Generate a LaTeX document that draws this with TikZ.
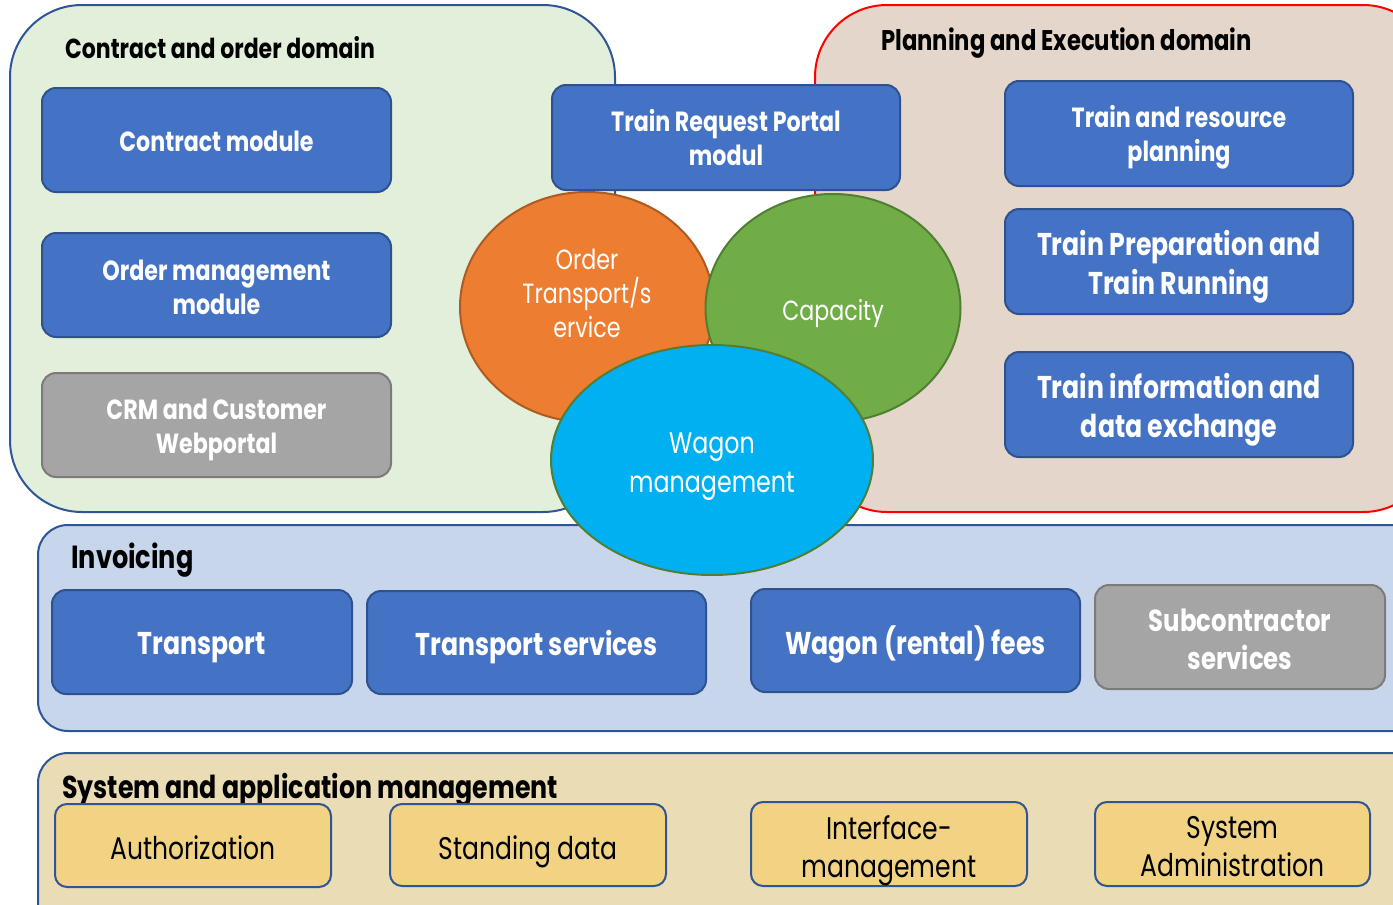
\documentclass[tikz,border=0pt]{standalone}
\usepackage{fontspec}
\setmainfont{Poppins}[FakeStretch=0.8]
\usetikzlibrary{shapes.geometric}
\definecolor{dgreen}{HTML}{E2EFDA}
\definecolor{dbrown}{HTML}{E4D6CA}
\definecolor{dblue}{HTML}{2F5597}
\definecolor{boxblue}{HTML}{4472C4}
\definecolor{boxbord}{HTML}{2F528F}
\definecolor{boxgray}{HTML}{A5A5A5}
\definecolor{graybord}{HTML}{7B7B7B}
\definecolor{invfill}{HTML}{C8D6EC}
\definecolor{sysfill}{HTML}{EADCB5}
\definecolor{yelbox}{HTML}{F1D383}
\definecolor{orfill}{HTML}{ED7D31}
\definecolor{orbord}{HTML}{AE5A21}
\definecolor{grfill}{HTML}{70AD47}
\definecolor{grbord}{HTML}{507E32}
\definecolor{cyfill}{HTML}{00B0F0}
\begin{document}
\begin{tikzpicture}[x=1pt,y=-1pt,
  modbox/.style={draw=boxbord, fill=boxblue, line width=2pt, rounded corners=14pt, inner sep=0pt},
  graymod/.style={modbox, draw=graybord, fill=boxgray},
  sysbox/.style={draw=dblue, fill=yelbox, line width=2pt, rounded corners=12pt, inner sep=0pt},
  modtext/.style={inner sep=0pt, align=center, text=white, font=\bfseries\fontsize{27.7}{34}\selectfont},
  bigtext/.style={modtext, font=\bfseries\fontsize{31.5}{39}\selectfont},
  systext/.style={inner sep=0pt, align=center, text=black, font=\fontsize{31.3}{38}\selectfont},
  domtitle/.style={anchor=west, inner sep=0pt, text=black, font=\bfseries\fontsize{28}{32}\selectfont},
  blob/.style={ellipse, draw, line width=2pt, inner sep=0pt},
  blobtext/.style={inner sep=0pt, align=center, text=white}
]
\useasboundingbox (0,0) rectangle (1393,905);
\clip (0,0) rectangle (1393,905);
\fill[white] (0,0) rectangle (1393,905);
% domains
\node[draw=dblue, fill=dgreen, line width=2pt, rounded corners=72pt, minimum width=605pt, minimum height=507pt, inner sep=0pt] (cdom) at (312.5,258.5) {};
\node[draw=red, fill=dbrown, line width=2pt, rounded corners=72pt, minimum width=620pt, minimum height=507pt, inner sep=0pt] (pdom) at (1125,258.5) {};
\node[domtitle, font=\bfseries\fontsize{27.5}{32}\selectfont] (cdomt) at (65,47.5) {Contract and order domain};
\node[domtitle, font=\bfseries\fontsize{28.4}{32}\selectfont] (pdomt) at (881,43) {Planning and Execution domain};
% contract boxes
\node[modbox, minimum width=349pt, minimum height=104pt] (contract) at (216.5,140) {};
\node[modtext] (contractt) at (216.5,141) {Contract module};
\node[modbox, minimum width=349pt, minimum height=104pt] (order) at (216.5,285) {};
\node[modtext] (ordert) at (216.5,287) {Order management\\module};
\node[graymod, minimum width=349pt, minimum height=104pt] (crm) at (216.5,425) {};
\node[modtext] (crmt) at (216.5,430) {CRM and Customer\\Webportal};
% planning boxes
\node[modbox, minimum width=348pt, minimum height=105pt] (trp) at (1179,133.5) {};
\node[modtext] (trpt) at (1179,137.5) {Train and resource\\planning};
\node[modbox, minimum width=348pt, minimum height=105pt] (tprep) at (1179,261.5) {};
\node[bigtext] (tprept) at (1179,266.5) {Train Preparation and\\Train Running};
\node[modbox, minimum width=348pt, minimum height=105pt] (tinfo) at (1179,404.5) {};
\node[bigtext] (tinfot) at (1179,409.5) {Train information and\\data exchange};
% invoicing
\node[draw=dblue, fill=invfill, line width=2pt, rounded corners=30pt, minimum width=1400pt, minimum height=206pt, inner sep=0pt] (inv) at (738,628) {};
\node[domtitle, font=\bfseries\fontsize{32}{36}\selectfont] (invt) at (71,560) {Invoicing};
\node[modbox, minimum width=300pt, minimum height=104pt] (transport) at (202,642) {};
\node[bigtext] (transportt) at (202,648) {Transport};
\node[modbox, minimum width=339pt, minimum height=103pt] (tserv) at (536.5,642.5) {};
\node[bigtext] (tservt) at (536.5,647.5) {Transport services};
\node[modbox, minimum width=329pt, minimum height=103pt] (wfees) at (915.5,640.5) {};
\node[bigtext] (wfeest) at (915.5,644.5) {Wagon (rental) fees};
\node[graymod, minimum width=290pt, minimum height=104pt] (subc) at (1240,637) {};
\node[bigtext, font=\bfseries\fontsize{30.5}{38}\selectfont] (subct) at (1240,639) {Subcontractor\\services};
% system
\node[draw=dblue, fill=sysfill, line width=2pt, rounded corners=30pt, minimum width=1400pt, minimum height=200pt, inner sep=0pt] (sys) at (738,853) {};
\node[domtitle, font=\bfseries\fontsize{31.6}{36}\selectfont] (syst) at (62,790) {System and application management};
\node[sysbox, minimum width=276pt, minimum height=83pt] (auth) at (193,845.5) {};
\node[systext] (autht) at (193,847.5) {Authorization};
\node[sysbox, minimum width=276pt, minimum height=82pt] (stand) at (528,845) {};
\node[systext] (standt) at (528,852) {Standing data};
\node[sysbox, minimum width=276pt, minimum height=84pt] (iface) at (889,844) {};
\node[systext] (ifacet) at (889,851) {Interface-\\management};
\node[sysbox, minimum width=275pt, minimum height=84pt] (sadm) at (1232.5,844) {};
\node[systext] (sadmt) at (1232.5,847) {System\\Administration};
% ellipses
\node[blob, draw=orbord, fill=orfill, minimum width=254pt, minimum height=230pt] (ordertr) at (587,307) {};
\node[blobtext, font=\fontsize{27.8}{34}\selectfont] (ordertrt) at (587,293) {Order\\Transport/s\\ervice};
\node[blob, draw=grbord, fill=grfill, minimum width=255pt, minimum height=228pt] (cap) at (833,308) {};
\node[blobtext, font=\fontsize{27.7}{34}\selectfont] (capt) at (833,314) {Capacity};
\node[blob, draw=grbord, fill=cyfill, minimum width=322pt, minimum height=230pt] (wagon) at (712,460) {};
\node[blobtext, font=\fontsize{29.7}{39}\selectfont] (wagont) at (712,467) {Wagon\\management};
% train request portal
\node[modbox, minimum width=348pt, minimum height=105pt] (portal) at (726,137.5) {};
\node[modtext] (portalt) at (726,137.5) {Train Request Portal\\modul};
\end{tikzpicture}
\end{document}
